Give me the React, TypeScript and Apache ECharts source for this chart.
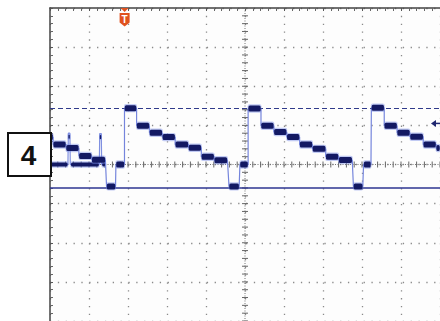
import React, { useEffect, useRef } from "react";
import * as echarts from "echarts";

// Horizontal position in screen divisions (0..10), level in divisions (-4..4)
const segStart = [0, 0.08, 0.41, 0.74, 1.07, 1.45, 1.69, 1.91, 2.22, 2.55, 2.88, 3.21, 3.55, 3.88, 4.21, 4.59, 4.87, 5.08, 5.41, 5.74, 6.07, 6.4, 6.73, 7.07, 7.4, 7.78, 8.04, 8.24, 8.57, 8.9, 9.23, 9.57, 9.9];
const segEnd = [0.08, 0.41, 0.74, 1.07, 1.42, 1.68, 1.91, 2.22, 2.55, 2.88, 3.21, 3.55, 3.88, 4.21, 4.55, 4.85, 5.08, 5.41, 5.74, 6.07, 6.4, 6.73, 7.07, 7.4, 7.75, 8.02, 8.23, 8.57, 8.9, 9.23, 9.57, 9.9, 10.0];
const segLevel = [0.7, 0.51, 0.42, 0.22, 0.12, -0.56, 0.0, 1.44, 0.99, 0.81, 0.7, 0.51, 0.43, 0.2, 0.11, -0.56, 0.0, 1.43, 0.99, 0.83, 0.7, 0.51, 0.4, 0.2, 0.115, -0.56, 0.0, 1.45, 0.99, 0.81, 0.71, 0.51, 0.42];

// persistence (ghost) trace before the trigger
const ghostStart = [0, 0.53, 1.33];
const ghostEnd = [0.46, 1.26, 1.42];
const ghostLevel = [0, 0, 0];
const spikeTime = [0.49, 1.295];
const spikeTop = [0.8, 0.79];

const dashedLevel = 1.44;
const solidLevel = -0.595;
const triggerTime = 1.913;
const triggerLevel = 1.05;
const channelLabel = "4";

export default function App() {
  const ref = useRef<HTMLDivElement>(null);
  useEffect(() => {
    const chart = echarts.init(ref.current!, null, { renderer: "svg" });

    const blocks = segStart.map((s, i) => [s, segEnd[i], segLevel[i]]);
    const tracePts: number[][] = [];
    segStart.forEach((s, i) => {
      tracePts.push([s, segLevel[i]]);
      tracePts.push([segEnd[i], segLevel[i]]);
    });
    const ghostBlocks = ghostStart.map((s, i) => [s, ghostEnd[i], ghostLevel[i]]);
    const spikeBlocks = spikeTime.map((t, i) => [t - 0.025, t + 0.025, spikeTop[i] - 0.09]);
    const ghostPts: number[][] = [[ghostStart[0], 0]];
    spikeTime.forEach((t, i) => {
      ghostPts.push([t - 0.03, 0], [t - 0.02, spikeTop[i]], [t + 0.02, spikeTop[i]], [t + 0.03, 0]);
    });
    ghostPts.push([ghostEnd[ghostEnd.length - 1], 0]);

    const blockRender = (h: number) => (params: any, api: any) => {
      const a = api.coord([api.value(0), api.value(2)]);
      const b = api.coord([api.value(1), api.value(2)]);
      return {
        type: "group",
        children: [
          {
            type: "rect",
            shape: { x: a[0] - 0.5, y: a[1] - h / 2 - 1.2, width: Math.max(1, b[0] - a[0]) + 1, height: h + 2.4, r: 2 },
            style: { fill: "rgba(120,140,230,0.45)" },
          },
          {
            type: "rect",
            shape: { x: a[0] + 0.3, y: a[1] - h / 2, width: Math.max(1, b[0] - a[0] - 0.6), height: h, r: 1.5 },
            style: { fill: "#131963" },
          },
        ],
      };
    };

    const option: any = {
      animation: false,
      backgroundColor: "#ffffff",
      grid: { left: 50, top: 8, width: 392, height: 313.6, show: true, backgroundColor: "#fdfdfd", borderWidth: 0 },
      xAxis: {
        type: "value",
        min: 0,
        max: 10,
        interval: 1,
        position: "top",
        axisLine: { show: true, onZero: false, lineStyle: { color: "#444", width: 1.5 } },
        axisTick: { show: true, inside: true, length: 3, lineStyle: { color: "#555" } },
        minorTick: { show: true, splitNumber: 5, length: 3, lineStyle: { color: "#666" } },
        axisLabel: { show: false },
        splitLine: { show: true, lineStyle: { color: "#8a8a8a", width: 1.3, type: [1.3, 6.54] } },
      },
      yAxis: {
        type: "value",
        min: -4,
        max: 4,
        interval: 1,
        axisLine: { show: true, onZero: false, lineStyle: { color: "#444", width: 1.5 } },
        axisTick: { show: true, inside: true, length: 3, lineStyle: { color: "#555" } },
        minorTick: { show: true, splitNumber: 5, length: 3, lineStyle: { color: "#666" } },
        axisLabel: { show: false },
        splitLine: { show: true, lineStyle: { color: "#8a8a8a", width: 1.3, type: [1.3, 6.54] } },
      },
      series: [
        {
          type: "custom",
          name: "crosshair",
          z: 1,
          silent: true,
          data: [[0]],
          renderItem: (params: any, api: any) => {
            const top = api.coord([5, 4]);
            const bot = api.coord([5, -4]);
            const left = api.coord([0, 0]);
            const right = api.coord([10, 0]);
            const children: any[] = [];
            const st = { stroke: "#666", lineWidth: 1 };
            children.push({ type: "line", shape: { x1: top[0], y1: top[1], x2: bot[0], y2: bot[1] }, style: { stroke: "#777", lineWidth: 1, lineDash: [1, 1.5] } });
            children.push({ type: "line", shape: { x1: left[0], y1: left[1], x2: right[0], y2: right[1] }, style: { stroke: "#777", lineWidth: 1, lineDash: [1, 1.5] } });
            const sx = (right[0] - left[0]) / 50;
            for (let i = 0; i <= 50; i++) {
              const x = left[0] + i * sx;
              children.push({ type: "line", shape: { x1: x, y1: left[1] - 3, x2: x, y2: left[1] + 3 }, style: st });
            }
            const sy = (bot[1] - top[1]) / 40;
            for (let j = 0; j <= 40; j++) {
              const y = top[1] + j * sy;
              children.push({ type: "line", shape: { x1: top[0] - 3, y1: y, x2: top[0] + 3, y2: y }, style: st });
            }
            return { type: "group", children };
          },
        },
        {
          type: "line",
          name: "trace",
          z: 3,
          silent: true,
          symbol: "none",
          data: tracePts,
          lineStyle: { color: "#7585dc", width: 1.2 },
          markLine: {
            silent: true,
            symbol: "none",
            label: { show: false },
            data: [
              { yAxis: dashedLevel, lineStyle: { color: "#2f3a8a", width: 1.2, type: [5, 3] } },
              { yAxis: solidLevel, lineStyle: { color: "#2c3590", width: 1.5, type: "solid" } },
            ],
          },
        },
        {
          type: "line",
          name: "ghost",
          z: 3,
          silent: true,
          symbol: "none",
          data: ghostPts,
          lineStyle: { color: "#8090e0", width: 1.2 },
        },
        {
          type: "custom",
          name: "ghostBlocks",
          z: 4,
          silent: true,
          clip: true,
          encode: { x: [0, 1], y: 2 },
          data: ghostBlocks.concat(spikeBlocks),
          renderItem: blockRender(4),
        },
        {
          type: "custom",
          name: "levels",
          z: 5,
          silent: true,
          clip: true,
          encode: { x: [0, 1], y: 2 },
          data: blocks,
          renderItem: blockRender(6),
        },
        {
          type: "custom",
          name: "markers",
          z: 6,
          silent: true,
          data: [[triggerTime, triggerLevel]],
          renderItem: (params: any, api: any) => {
            const t = api.coord([api.value(0), 4]);
            const lv = api.coord([10, api.value(1)]);
            const cx = t[0];
            const y0 = t[1];
            const ax = lv[0] - 9;
            const ay = lv[1];
            return {
              type: "group",
              children: [
                { type: "polygon", shape: { points: [[cx - 4, y0], [cx + 4, y0], [cx, y0 + 4]] }, style: { fill: "#e0521f" } },
                {
                  type: "polygon",
                  shape: { points: [[cx - 5, y0 + 5], [cx + 5, y0 + 5], [cx + 5, y0 + 14.5], [cx, y0 + 18.5], [cx - 5, y0 + 14.5]] },
                  style: { fill: "#e0521f" },
                },
                {
                  type: "text",
                  style: { text: "T", x: cx, y: y0 + 11.5, fill: "#ffffff", font: "bold 10px 'Liberation Sans'", align: "center", verticalAlign: "middle" },
                },
                { type: "polygon", shape: { points: [[ax, ay], [ax + 5, ay - 3.5], [ax + 5, ay + 3.5]] }, style: { fill: "#1f2770" } },
                { type: "line", shape: { x1: ax + 4, y1: ay, x2: ax + 10, y2: ay }, style: { stroke: "#1f2770", lineWidth: 1.5 } },
              ],
            };
          },
        },
      ],
      graphic: [
        {
          type: "rect",
          left: 7,
          top: 132,
          shape: { x: 0, y: 0, width: 43, height: 43 },
          style: { fill: "#ffffff", stroke: "#111", lineWidth: 2 },
          z: 100,
        },
        {
          type: "text",
          x: 28.5,
          y: 155,
          style: { text: channelLabel, fill: "#111", font: "bold 28px 'Liberation Sans'", align: "center", verticalAlign: "middle" },
          z: 101,
        },
      ],
    };
    chart.setOption(option);
    return () => chart.dispose();
  }, []);
  return <div ref={ref} style={{ position: "fixed", left: 0, top: 0, width: 440, height: 321, background: "#fff" }} />;
}
